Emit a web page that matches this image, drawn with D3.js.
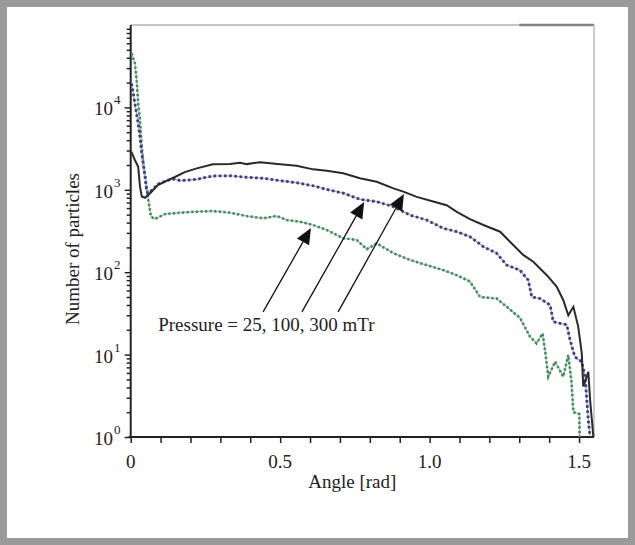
<!DOCTYPE html>
<html><head><meta charset="utf-8">
<script src="https://cdn.jsdelivr.net/npm/d3@7/dist/d3.min.js"></script>
<style>body{margin:0;background:#fff}text{font-family:"Liberation Serif","Times New Roman",serif;fill:#222}</style>
</head><body><svg id="c" width="635" height="545"></svg>
<script>
// ---- data (angle in rad, number of particles) ----
const angles300 = [0.002,0.014,0.025,0.031,0.037,0.048,0.065,0.091,0.125,0.148,0.181,0.221,0.275,0.332,0.366,0.388,0.433,0.5,0.555,0.61,0.656,0.711,0.767,0.823,0.879,0.912,0.957,1.012,1.057,1.091,1.135,1.18,1.236,1.269,1.313,1.347,1.392,1.425,1.447,1.464,1.481,1.497,1.509,1.514,1.526,1.531,1.537,1.546,1.548];
const counts300 = [2900,2300,1900,1100,830,800,910,1140,1310,1430,1640,1820,2040,2050,2130,2050,2160,2040,1960,1770,1700,1590,1380,1250,1040,950,820,720,650,540,440,374,310,234,162,134,92,67,46,30,38,22,10.4,4.1,5.4,6.2,2.8,1.2,1];
const angles100 = [0.003,0.014,0.023,0.031,0.037,0.042,0.048,0.053,0.057,0.071,0.091,0.125,0.148,0.165,0.221,0.275,0.332,0.388,0.443,0.5,0.555,0.61,0.656,0.711,0.767,0.823,0.879,0.934,0.99,1.046,1.091,1.135,1.18,1.224,1.258,1.302,1.33,1.342,1.369,1.403,1.414,1.459,1.47,1.486,1.509,1.52,1.526,1.531,1.537];
const counts100 = [19500,11200,7030,4400,2770,2090,1440,995,906,990,1170,1310,1350,1290,1340,1470,1480,1420,1380,1290,1220,1120,1010,910,767,718,624,494,430,341,310,270,204,170,122,106,80,50,48,40,25,23,15,9.4,8.2,5.4,2.8,1.6,1];
const angles25 = [0.003,0.014,0.020,0.025,0.031,0.037,0.042,0.050,0.059,0.068,0.081,0.115,0.165,0.221,0.275,0.332,0.388,0.443,0.488,0.522,0.566,0.61,0.656,0.711,0.756,0.79,0.823,0.879,0.934,0.99,1.046,1.091,1.135,1.169,1.224,1.258,1.302,1.336,1.358,1.378,1.386,1.397,1.42,1.447,1.464,1.475,1.481,1.501,1.502];
const counts25 = [45400,34300,21500,11200,7080,3330,2090,1315,752,472,442,508,527,542,553,527,481,451,481,430,410,374,325,258,246,190,224,170,141,122,106,92,77,50,48,38,28,16.5,13.7,18,11.4,5.4,8.2,5.4,9.9,4.5,2.0,1.9,1];
const xTickValues = [0,0.5,1.0,1.5];
const xTickLabels = ["0","0.5","1.0","1.5"];
const yTickExponents = [0,1,2,3,4];
const annotationText = "Pressure = 25, 100, 300 mTr";
// arrow tails/tips in data coordinates [angle, count]
const arrowTails = [[0.443,33],[0.573,33],[0.694,33]];
const arrowTips  = [[0.603,344],[0.781,711],[0.914,889]];
const xTitle = "Angle [rad]";
const yTitle = "Number of particles";

const svg = d3.select("#c");
// outer frame
svg.append("rect").attr("x",3.5).attr("y",3.5).attr("width",628).attr("height",538)
  .attr("fill","#fff").attr("stroke","#9a9a9a").attr("stroke-width",7);

const L = 130.7, R = 594, T = 25, B = 437;
const x = d3.scaleLinear().domain([0,1.55]).range([L,R]);
const y = d3.scaleLog().domain([1,1e5]).range([B,T]);

// top and right frame of plot
svg.append("line").attr("x1",L).attr("x2",R).attr("y1",T).attr("y2",T).attr("stroke","#b0b0c0").attr("stroke-width",1.5);
svg.append("line").attr("x1",x(1.3)).attr("x2",R).attr("y1",T).attr("y2",T).attr("stroke","#808080").attr("stroke-width",2.5);
svg.append("line").attr("x1",R).attr("x2",R).attr("y1",T).attr("y2",B).attr("stroke","#b8b8c0").attr("stroke-width",1.5);

// x axis
const xMinor = d3.range(0,1.51,0.1);
const xAxis = d3.axisBottom(x).tickValues(xMinor).tickSize(6).tickFormat("");
const gx = svg.append("g").attr("transform",`translate(0,${B})`).call(xAxis);
gx.select(".domain").remove();
gx.selectAll(".tick line").attr("stroke","#222").attr("stroke-width",1.5);
svg.append("line").attr("x1",L-2).attr("x2",R).attr("y1",B).attr("y2",B).attr("stroke","#222").attr("stroke-width",2);
svg.selectAll(".xlab").data(xTickValues).enter().append("text")
  .attr("x",(d)=>x(d)).attr("y",B+31).attr("text-anchor","middle").attr("font-size",19)
  .text((d,i)=>xTickLabels[i]);
svg.append("text").attr("x",(L+R)/2-10).attr("y",B+51).attr("text-anchor","middle").attr("font-size",19).text(xTitle);

// y axis
const yMinor = [];
for (let e=0;e<5;e++) for (let m=2;m<=9;m++) yMinor.push(m*Math.pow(10,e));
const gyMin = svg.append("g").attr("transform",`translate(${L},0)`)
  .call(d3.axisLeft(y).tickValues(yMinor).tickSize(4).tickFormat(""));
gyMin.select(".domain").remove();
gyMin.selectAll(".tick line").attr("stroke","#222").attr("stroke-width",1.5);
const gyMaj = svg.append("g").attr("transform",`translate(${L},0)`)
  .call(d3.axisLeft(y).tickValues(yTickExponents.map(e=>Math.pow(10,e))).tickSize(6).tickFormat(""));
gyMaj.select(".domain").remove();
gyMaj.selectAll(".tick line").attr("stroke","#222").attr("stroke-width",1.5);
svg.append("line").attr("x1",L).attr("x2",L).attr("y1",T).attr("y2",B+1).attr("stroke","#222").attr("stroke-width",2);
const ylab = svg.selectAll(".ylab").data(yTickExponents).enter().append("g");
ylab.append("text").attr("x",113).attr("y",e=>y(Math.pow(10,e))+8).attr("text-anchor","end").attr("font-size",19).text("10");
ylab.append("text").attr("x",114).attr("y",e=>y(Math.pow(10,e))-3).attr("font-size",13).text(e=>e);
svg.append("text").attr("transform",`translate(79,${(T+B)/2+18}) rotate(-90)`).attr("text-anchor","middle").attr("font-size",19).text(yTitle);

// series
const line = d3.line().x(d=>x(d[0])).y(d=>y(d[1]));
const clip = svg.append("clipPath").attr("id","pc").append("rect").attr("x",L).attr("y",T-2).attr("width",R-L+1).attr("height",B-T+2);
const gS = svg.append("g").attr("clip-path","url(#pc)");
const s25 = d3.zip(angles25,counts25), s100 = d3.zip(angles100,counts100), s300 = d3.zip(angles300,counts300);
gS.append("path").datum(s25).attr("d",line).attr("fill","none").attr("stroke","#8fbf9f").attr("stroke-width",1.2);
gS.append("path").datum(s25).attr("d",line).attr("fill","none").attr("stroke","#3f8a58").attr("stroke-width",2.6).attr("stroke-dasharray","2.2,2.4");
gS.append("path").datum(s100).attr("d",line).attr("fill","none").attr("stroke","#a0a0c8").attr("stroke-width",1.2);
gS.append("path").datum(s100).attr("d",line).attr("fill","none").attr("stroke","#3c3c84").attr("stroke-width",2.8).attr("stroke-dasharray","2.6,2.6");
gS.append("path").datum(s300).attr("d",line).attr("fill","none").attr("stroke","#2a2a2a").attr("stroke-width",2);

// annotation
svg.append("text").attr("x",x(0.092)).attr("y",y(19.5)).attr("font-size",19).text(annotationText);
arrowTails.forEach((t,i)=>{
  const p = arrowTips[i];
  const x1=x(t[0]), y1=y(t[1]), x2=x(p[0]), y2=y(p[1]);
  const ang = Math.atan2(y2-y1,x2-x1);
  const hl = 16, hw = 7;
  const bx = x2 - hl*Math.cos(ang), by = y2 - hl*Math.sin(ang);
  svg.append("line").attr("x1",x1).attr("y1",y1).attr("x2",bx).attr("y2",by).attr("stroke","#111").attr("stroke-width",1.3);
  const px = -Math.sin(ang), py = Math.cos(ang);
  svg.append("path").attr("d",`M${x2},${y2}L${bx+hw*px},${by+hw*py}L${bx-hw*px},${by-hw*py}Z`).attr("fill","#111");
});
</script></body></html>
